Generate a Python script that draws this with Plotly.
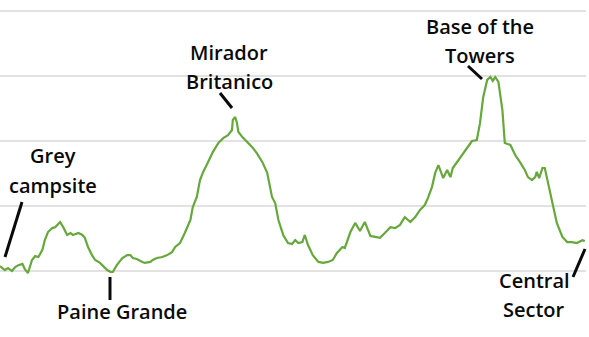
import plotly.graph_objects as go

# Distance along the trek (km) and elevation (m), read from the profile
distance_km = [0.0, 0.6, 1.0, 1.5, 1.9, 2.3, 2.8, 3.1, 3.5, 4.0, 4.4, 4.8, 5.3, 5.6, 6.0, 6.5, 6.9, 7.3, 7.5, 7.9,
               8.4, 8.8, 9.1, 9.8, 10.3, 10.6, 11.0, 11.5, 11.9, 12.5, 12.9, 13.4, 13.8, 14.1, 14.6, 15.3, 15.9, 16.3,
               16.6, 17.1, 17.8, 18.1, 18.8, 19.1, 19.6, 20.3, 20.9, 21.5, 21.9, 22.5, 23.1, 23.8, 24.1, 24.6, 25.0,
               25.4, 26.0, 26.6, 27.3, 27.9, 28.5, 29.0, 29.1, 29.4, 29.6, 29.8, 30.3, 30.9, 31.5, 32.1, 32.8, 33.4,
               33.8, 34.0, 34.4, 34.8, 35.4, 36.0, 36.5, 36.9, 37.3, 37.8, 38.1, 38.5, 39.1, 39.8, 40.4, 41.0, 41.6,
               42.1, 42.8, 43.1, 43.8, 44.4, 45.0, 45.6, 46.3, 46.9, 47.5, 48.1, 48.8, 49.4, 50.0, 50.6, 51.3, 51.9,
               52.5, 53.1, 53.5, 54.0, 54.4, 54.8, 55.4, 55.9, 56.3, 56.6, 57.3, 57.9, 58.5, 59.0, 59.6, 60.0, 60.4,
               60.9, 61.3, 61.6, 61.9, 62.3, 62.8, 63.1, 63.8, 64.4, 65.0, 65.6, 66.0, 66.5, 66.9, 67.1, 67.4, 67.8,
               68.1, 68.5, 69.0, 69.6, 70.3, 70.9, 71.5, 72.1, 72.8, 73.1]
elevation_m = [215, 203, 209, 200, 212, 218, 222, 206, 194, 234, 246, 243, 265, 295, 320, 332, 335, 348, 351, 335,
               311, 317, 311, 317, 311, 302, 274, 249, 234, 225, 215, 203, 197, 197, 218, 240, 249, 249,
               240, 237, 228, 225, 228, 234, 240, 243, 249, 258, 274, 286, 317, 357, 397, 428, 480,
               505, 535, 566, 594, 609, 618, 634, 665, 674, 658, 628, 612, 597, 582, 563, 535, 502,
               458, 428, 409, 357, 311, 286, 283, 295, 286, 289, 311, 280, 249, 228, 225, 228, 234,
               255, 274, 271, 320, 348, 323, 351, 308, 305, 302, 317, 335, 332, 342, 366, 351, 366,
               388, 403, 425, 459, 502, 526, 486, 511, 489, 517, 542, 563, 582, 600, 603, 655, 735,
               788, 797, 785, 797, 782, 695, 594, 588, 557, 535, 511, 489, 480, 489, 505, 486, 517,
               517, 471, 409, 348, 305, 289, 289, 286, 295, 292]

grid_values = [0, 200, 400, 600, 800, 1000]

# Labels: (lines, text centre in px, line height px, pointer line from/to in px)
labels = [
    (["Grey", "campsite"], (53, 155), 30, ((22, 202), (5, 257))),
    (["Paine Grande"], (122, 311), 30, ((110, 277), (110, 300))),
    (["Mirador", "Britanico"], (229, 52), 30, ((220, 93), (232, 108))),
    (["Base of the", "Towers"], (480, 27), 29, ((468, 66), (482, 79))),
    (["Central", "Sector"], (534, 280), 29, ((573, 277), (585, 249))),
]

W, H = 589, 337
PLOT_W = 586
X_RANGE = [0, 73.25]
Y_RANGE = [-3, 1034]


def pxx(p):
    return p / PLOT_W


def pxy(p):
    return 1 - p / H


fig = go.Figure()
fig.add_trace(go.Scatter(
    x=distance_km, y=elevation_m, mode="lines",
    line=dict(color="#66a83c", width=2.2),
    hoverinfo="skip",
))

annotations = []
shapes = []
for lines, (cx, cy), lh, ((x0, y0), (x1, y1)) in labels:
    for i, t in enumerate(lines):
        yy = cy + i * lh
        annotations.append(dict(
            x=pxx(cx), y=pxy(yy), xref="paper", yref="paper",
            text=t, showarrow=False, xanchor="center", yanchor="middle",
            font=dict(family="Open Sans", size=20, color="#0a0a0a", weight=600),
        ))
    shapes.append(dict(
        type="line", xref="paper", yref="paper",
        x0=pxx(x0), y0=pxy(y0), x1=pxx(x1), y1=pxy(y1),
        line=dict(color="#0a0a0a", width=3),
    ))

fig.update_layout(
    width=W, height=H,
    margin=dict(l=0, r=W - PLOT_W, t=0, b=0),
    paper_bgcolor="white", plot_bgcolor="white",
    showlegend=False,
    xaxis=dict(range=X_RANGE, showgrid=False, zeroline=False, showticklabels=False,
               ticks="", showline=False, fixedrange=True),
    yaxis=dict(range=Y_RANGE, tickvals=grid_values, showgrid=True, gridcolor="#e2e2e2",
               gridwidth=1.5, zeroline=False, showticklabels=False, ticks="",
               showline=False, fixedrange=True),
    annotations=annotations,
    shapes=shapes,
)

fig.write_html("out.html")
